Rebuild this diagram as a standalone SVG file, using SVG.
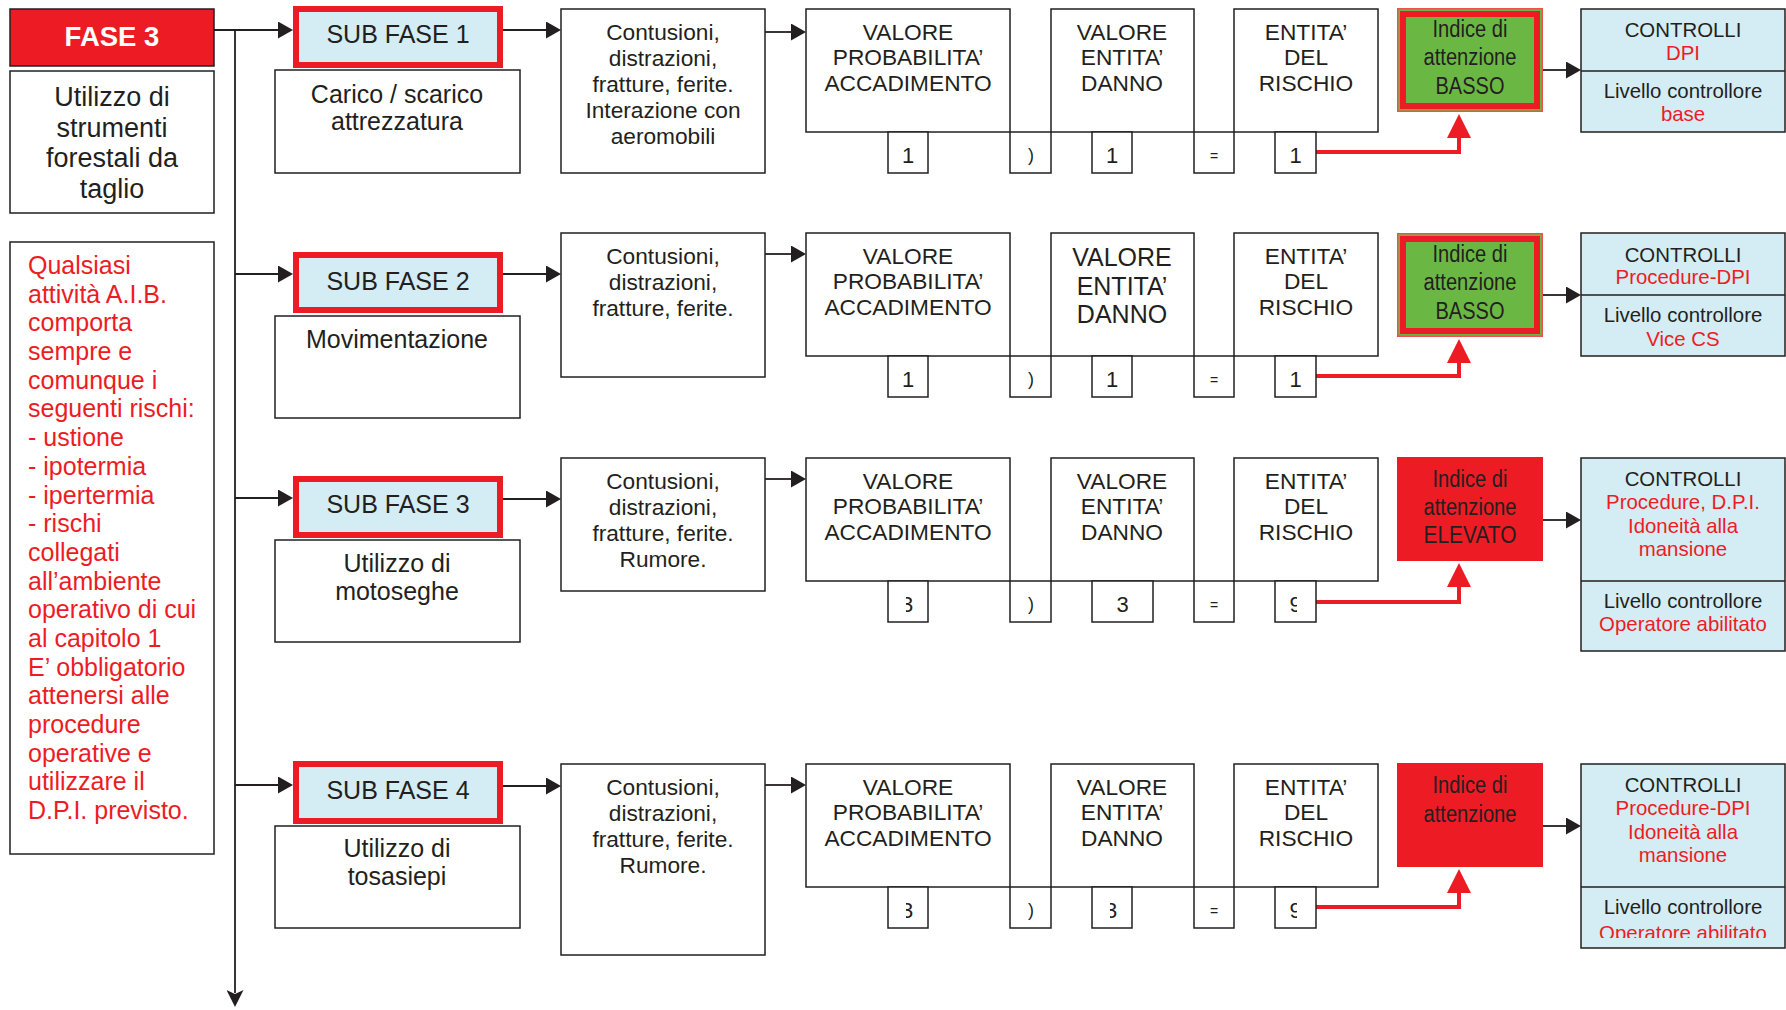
<svg xmlns="http://www.w3.org/2000/svg" width="1786" height="1010" viewBox="0 0 1786 1010">
  <style>
    text { font-family: "Liberation Sans", Arial, sans-serif; fill: #231f20; text-anchor: middle; }
    .box { fill: #ffffff; stroke: #231f20; stroke-width: 1.5; }
    .sub { fill: #d4ecf4; stroke: #ed1c24; stroke-width: 6; }
    .ctrl { fill: #d4ecf4; stroke: #231f20; stroke-width: 1.5; }
    .hi { fill: #ed1c24; }
    .lo { fill: #6ab843; stroke: #ef5050; stroke-width: 1.5; }
    .loframe { fill: none; stroke: #ed1c24; stroke-width: 6; }
    .red { fill: #ed1c24; }
    .f22 { font-size: 22.7px; }
    .f25 { font-size: 25px; }
    .f27 { font-size: 27px; }
    .f20 { font-size: 20.4px; }
    .ind { font-size: 23px; }
    .dig { font-size: 22px; }
    .op { font-size: 18px; }
    .eq { font-size: 14px; }
    .lnk { fill: none; stroke: #231f20; stroke-width: 1.8; }
    .rlnk { fill: none; stroke: #ed1c24; stroke-width: 4; }
    .left { text-anchor: start; }
  </style>
  <defs>
    <marker id="ah" markerUnits="userSpaceOnUse" markerWidth="15" markerHeight="17" refX="1" refY="8.5" orient="auto">
      <path d="M0,0 L15,8.5 L0,17 z" fill="#231f20"/>
    </marker>
    <marker id="ahd" markerUnits="userSpaceOnUse" markerWidth="17" markerHeight="17" refX="3" refY="8.5" orient="auto">
      <path d="M0,0 L17,8.5 L0,17 L4,8.5 z" fill="#231f20"/>
    </marker>
    <marker id="ahr" markerUnits="userSpaceOnUse" markerWidth="24" markerHeight="24" refX="1" refY="12" orient="auto">
      <path d="M0,0 L24,12 L0,24 z" fill="#ed1c24"/>
    </marker>
    <!-- partially hidden values in the small value boxes -->
    <clipPath id="c3a"><rect x="906" y="580" width="8" height="45"/></clipPath>
    <clipPath id="c3b"><rect x="906" y="886" width="8" height="45"/></clipPath>
    <clipPath id="c3c"><rect x="1110" y="886" width="8" height="45"/></clipPath>
    <clipPath id="c9a"><rect x="1285" y="580" width="12" height="45"/></clipPath>
    <clipPath id="c9b"><rect x="1285" y="886" width="12" height="45"/></clipPath>
    <clipPath id="cop"><rect x="1581" y="890" width="205" height="48"/></clipPath>
  </defs>

  <!-- connectors -->
  <g id="connectors">
    <path class="lnk" d="M214,30 H279" marker-end="url(#ah)"/>
    <path class="lnk" d="M235,30 V993" marker-end="url(#ahd)"/>
    <path class="lnk" d="M235,274 H279" marker-end="url(#ah)"/>
    <path class="lnk" d="M235,498 H279" marker-end="url(#ah)"/>
    <path class="lnk" d="M235,785 H279" marker-end="url(#ah)"/>

    <path class="lnk" d="M503,30 H547" marker-end="url(#ah)"/>
    <path class="lnk" d="M503,274 H547" marker-end="url(#ah)"/>
    <path class="lnk" d="M503,499 H547" marker-end="url(#ah)"/>
    <path class="lnk" d="M503,786 H547" marker-end="url(#ah)"/>

    <path class="lnk" d="M765,32 H792" marker-end="url(#ah)"/>
    <path class="lnk" d="M765,254 H792" marker-end="url(#ah)"/>
    <path class="lnk" d="M765,479 H792" marker-end="url(#ah)"/>
    <path class="lnk" d="M765,785 H792" marker-end="url(#ah)"/>

    <path class="lnk" d="M1543,70 H1567" marker-end="url(#ah)"/>
    <path class="lnk" d="M1543,295 H1567" marker-end="url(#ah)"/>
    <path class="lnk" d="M1543,520 H1567" marker-end="url(#ah)"/>
    <path class="lnk" d="M1543,826 H1567" marker-end="url(#ah)"/>

    <path class="rlnk" d="M1316,152 H1459 V137" marker-end="url(#ahr)"/>
    <path class="rlnk" d="M1316,376 H1459 V362" marker-end="url(#ahr)"/>
    <path class="rlnk" d="M1316,602 H1459 V586" marker-end="url(#ahr)"/>
    <path class="rlnk" d="M1316,907 H1459 V892" marker-end="url(#ahr)"/>
  </g>

  <!-- phase header -->
  <g id="fase3">
    <rect x="10" y="9" width="204" height="57" fill="#ed1c24" stroke="#231f20" stroke-width="1.5"/>
    <text x="112" y="46" style="font-size:27.5px;font-weight:bold;fill:#ffffff">FASE 3</text>
  </g>
  <g id="fase3-desc">
    <rect class="box" x="10" y="71" width="204" height="142"/>
    <text class="f27" x="112" y="106">Utilizzo di</text>
    <text class="f27" x="112" y="137">strumenti</text>
    <text class="f27" x="112" y="167">forestali da</text>
    <text class="f27" x="112" y="198">taglio</text>
  </g>
  <g id="note">
    <rect class="box" x="10" y="242" width="204" height="612"/>
    <g class="f25">
      <text class="left red" x="28" y="274">Qualsiasi</text>
      <text class="left red" x="28" y="303">attività A.I.B.</text>
      <text class="left red" x="28" y="331">comporta</text>
      <text class="left red" x="28" y="360">sempre e</text>
      <text class="left red" x="28" y="389">comunque i</text>
      <text class="left red" x="28" y="417">seguenti rischi:</text>
      <text class="left red" x="28" y="446">- ustione</text>
      <text class="left red" x="28" y="475">- ipotermia</text>
      <text class="left red" x="28" y="504">- ipertermia</text>
      <text class="left red" x="28" y="532">- rischi</text>
      <text class="left red" x="28" y="561">collegati</text>
      <text class="left red" x="28" y="590">all’ambiente</text>
      <text class="left red" x="28" y="618">operativo di cui</text>
      <text class="left red" x="28" y="647">al capitolo 1</text>
      <text class="left red" x="28" y="676">E’ obbligatorio</text>
      <text class="left red" x="28" y="704">attenersi alle</text>
      <text class="left red" x="28" y="733">procedure</text>
      <text class="left red" x="28" y="762">operative e</text>
      <text class="left red" x="28" y="790">utilizzare il</text>
      <text class="left red" x="28" y="819">D.P.I. previsto.</text>
    </g>
  </g>

  <!-- row 1 -->
  <g id="subfase1">
    <rect class="sub" x="296" y="9" width="204" height="56"/>
    <text class="f25" x="398" y="43">SUB FASE 1</text>
  </g>
  <g id="subfase1-desc">
    <rect class="box" x="275" y="70" width="245" height="103"/>
    <text class="f25" x="397" y="103">Carico / scarico</text>
    <text class="f25" x="397" y="130">attrezzatura</text>
  </g>
  <g id="rischi1">
    <rect class="box" x="561" y="9" width="204" height="164"/>
    <text class="f22" x="663" y="40">Contusioni,</text>
    <text class="f22" x="663" y="66">distrazioni,</text>
    <text class="f22" x="663" y="92">fratture, ferite.</text>
    <text class="f22" x="663" y="118">Interazione con</text>
    <text class="f22" x="663" y="144">aeromobili</text>
  </g>
  <g id="prob1">
    <rect class="box" x="806" y="9" width="204" height="123"/>
    <text class="f22" x="908" y="40">VALORE</text>
    <text class="f22" x="908" y="65">PROBABILITA’</text>
    <text class="f22" x="908" y="91">ACCADIMENTO</text>
    <rect class="box" x="888" y="132" width="40" height="41"/>
    <text class="dig" x="908" y="163">1</text>
  </g>
  <g id="per1">
    <rect class="box" x="1010" y="132" width="41" height="41"/>
    <text class="op" x="1031" y="161">)</text>
  </g>
  <g id="danno1">
    <rect class="box" x="1051" y="9" width="143" height="123"/>
    <text class="f22" x="1122" y="40">VALORE</text>
    <text class="f22" x="1122" y="65">ENTITA’</text>
    <text class="f22" x="1122" y="91">DANNO</text>
    <rect class="box" x="1092" y="132" width="40" height="41"/>
    <text class="dig" x="1112" y="163">1</text>
  </g>
  <g id="uguale1">
    <rect class="box" x="1194" y="132" width="40" height="41"/>
    <text class="eq" x="1214" y="161">=</text>
  </g>
  <g id="rischio1">
    <rect class="box" x="1234" y="9" width="144" height="123"/>
    <text class="f22" x="1306" y="40">ENTITA’</text>
    <text class="f22" x="1306" y="65">DEL</text>
    <text class="f22" x="1306" y="91">RISCHIO</text>
    <rect class="box" x="1275" y="132" width="41" height="41"/>
    <text class="dig" x="1295.5" y="163">1</text>
  </g>
  <g id="indice1">
    <rect class="lo" x="1397.75" y="8.75" width="144.5" height="102.5"/>
    <rect class="loframe" x="1403" y="14" width="134" height="92"/>
    <text class="ind" x="1470" y="37" textLength="75" lengthAdjust="spacingAndGlyphs">Indice di</text>
    <text class="ind" x="1470" y="65" textLength="93" lengthAdjust="spacingAndGlyphs">attenzione</text>
    <text class="ind" x="1470" y="94" textLength="69" lengthAdjust="spacingAndGlyphs">BASSO</text>
  </g>
  <g id="controlli1">
    <rect class="ctrl" x="1581" y="9" width="204" height="123"/>
    <line x1="1581" y1="71" x2="1785" y2="71" stroke="#231f20" stroke-width="1.5"/>
    <text class="f20" x="1683" y="37">CONTROLLI</text>
    <text class="f20 red" x="1683" y="60">DPI</text>
    <text class="f20" x="1683" y="98">Livello controllore</text>
    <text class="f20 red" x="1683" y="121">base</text>
  </g>

  <!-- row 2 -->
  <g id="subfase2">
    <rect class="sub" x="296" y="255" width="204" height="55"/>
    <text class="f25" x="398" y="290">SUB FASE 2</text>
  </g>
  <g id="subfase2-desc">
    <rect class="box" x="275" y="316" width="245" height="102"/>
    <text class="f25" x="397" y="348">Movimentazione</text>
  </g>
  <g id="rischi2">
    <rect class="box" x="561" y="233" width="204" height="144"/>
    <text class="f22" x="663" y="264">Contusioni,</text>
    <text class="f22" x="663" y="290">distrazioni,</text>
    <text class="f22" x="663" y="316">fratture, ferite.</text>
  </g>
  <g id="prob2">
    <rect class="box" x="806" y="233" width="204" height="123"/>
    <text class="f22" x="908" y="264">VALORE</text>
    <text class="f22" x="908" y="289">PROBABILITA’</text>
    <text class="f22" x="908" y="315">ACCADIMENTO</text>
    <rect class="box" x="888" y="356" width="40" height="41"/>
    <text class="dig" x="908" y="387">1</text>
  </g>
  <g id="per2">
    <rect class="box" x="1010" y="356" width="41" height="41"/>
    <text class="op" x="1031" y="385">)</text>
  </g>
  <g id="danno2">
    <rect class="box" x="1051" y="233" width="143" height="123"/>
    <text class="f25" x="1122" y="266">VALORE</text>
    <text class="f25" x="1122" y="295">ENTITA’</text>
    <text class="f25" x="1122" y="323">DANNO</text>
    <rect class="box" x="1092" y="356" width="40" height="41"/>
    <text class="dig" x="1112" y="387">1</text>
  </g>
  <g id="uguale2">
    <rect class="box" x="1194" y="356" width="40" height="41"/>
    <text class="eq" x="1214" y="385">=</text>
  </g>
  <g id="rischio2">
    <rect class="box" x="1234" y="233" width="144" height="123"/>
    <text class="f22" x="1306" y="264">ENTITA’</text>
    <text class="f22" x="1306" y="289">DEL</text>
    <text class="f22" x="1306" y="315">RISCHIO</text>
    <rect class="box" x="1275" y="356" width="41" height="41"/>
    <text class="dig" x="1295.5" y="387">1</text>
  </g>
  <g id="indice2">
    <rect class="lo" x="1397.75" y="233.75" width="144.5" height="102.5"/>
    <rect class="loframe" x="1403" y="239" width="134" height="92"/>
    <text class="ind" x="1470" y="262" textLength="75" lengthAdjust="spacingAndGlyphs">Indice di</text>
    <text class="ind" x="1470" y="290" textLength="93" lengthAdjust="spacingAndGlyphs">attenzione</text>
    <text class="ind" x="1470" y="319" textLength="69" lengthAdjust="spacingAndGlyphs">BASSO</text>
  </g>
  <g id="controlli2">
    <rect class="ctrl" x="1581" y="233" width="204" height="123"/>
    <line x1="1581" y1="295" x2="1785" y2="295" stroke="#231f20" stroke-width="1.5"/>
    <text class="f20" x="1683" y="262">CONTROLLI</text>
    <text class="f20 red" x="1683" y="284">Procedure-DPI</text>
    <text class="f20" x="1683" y="322">Livello controllore</text>
    <text class="f20 red" x="1683" y="346">Vice CS</text>
  </g>

  <!-- row 3 -->
  <g id="subfase3">
    <rect class="sub" x="296" y="479" width="204" height="56"/>
    <text class="f25" x="398" y="513">SUB FASE 3</text>
  </g>
  <g id="subfase3-desc">
    <rect class="box" x="275" y="540" width="245" height="102"/>
    <text class="f25" x="397" y="572">Utilizzo di</text>
    <text class="f25" x="397" y="600">motoseghe</text>
  </g>
  <g id="rischi3">
    <rect class="box" x="561" y="458" width="204" height="133"/>
    <text class="f22" x="663" y="489">Contusioni,</text>
    <text class="f22" x="663" y="515">distrazioni,</text>
    <text class="f22" x="663" y="541">fratture, ferite.</text>
    <text class="f22" x="663" y="567">Rumore.</text>
  </g>
  <g id="prob3">
    <rect class="box" x="806" y="458" width="204" height="123"/>
    <text class="f22" x="908" y="489">VALORE</text>
    <text class="f22" x="908" y="514">PROBABILITA’</text>
    <text class="f22" x="908" y="540">ACCADIMENTO</text>
    <rect class="box" x="888" y="581" width="40" height="41"/>
    <text class="dig" x="907" y="612" clip-path="url(#c3a)">3</text>
  </g>
  <g id="per3">
    <rect class="box" x="1010" y="581" width="41" height="41"/>
    <text class="op" x="1031" y="610">)</text>
  </g>
  <g id="danno3">
    <rect class="box" x="1051" y="458" width="143" height="123"/>
    <text class="f22" x="1122" y="489">VALORE</text>
    <text class="f22" x="1122" y="514">ENTITA’</text>
    <text class="f22" x="1122" y="540">DANNO</text>
    <rect class="box" x="1092" y="581" width="61" height="41"/>
    <text class="dig" x="1122.5" y="612">3</text>
  </g>
  <g id="uguale3">
    <rect class="box" x="1194" y="581" width="40" height="41"/>
    <text class="eq" x="1214" y="610">=</text>
  </g>
  <g id="rischio3">
    <rect class="box" x="1234" y="458" width="144" height="123"/>
    <text class="f22" x="1306" y="489">ENTITA’</text>
    <text class="f22" x="1306" y="514">DEL</text>
    <text class="f22" x="1306" y="540">RISCHIO</text>
    <rect class="box" x="1275" y="581" width="41" height="41"/>
    <text class="dig" x="1295.5" y="612" clip-path="url(#c9a)">9</text>
  </g>
  <g id="indice3">
    <rect class="hi" x="1397" y="457" width="146" height="104"/>
    <text class="ind" x="1470" y="487" textLength="75" lengthAdjust="spacingAndGlyphs">Indice di</text>
    <text class="ind" x="1470" y="515" textLength="93" lengthAdjust="spacingAndGlyphs">attenzione</text>
    <text class="ind" x="1470" y="543" textLength="93" lengthAdjust="spacingAndGlyphs">ELEVATO</text>
  </g>
  <g id="controlli3">
    <rect class="ctrl" x="1581" y="458" width="204" height="193"/>
    <line x1="1581" y1="581" x2="1785" y2="581" stroke="#231f20" stroke-width="1.5"/>
    <text class="f20" x="1683" y="486">CONTROLLI</text>
    <text class="f20 red" x="1683" y="509">Procedure, D.P.I.</text>
    <text class="f20 red" x="1683" y="533">Idoneità alla</text>
    <text class="f20 red" x="1683" y="556">mansione</text>
    <text class="f20" x="1683" y="608">Livello controllore</text>
    <text class="f20 red" x="1683" y="631">Operatore abilitato</text>
  </g>

  <!-- row 4 -->
  <g id="subfase4">
    <rect class="sub" x="296" y="764" width="204" height="57"/>
    <text class="f25" x="398" y="799">SUB FASE 4</text>
  </g>
  <g id="subfase4-desc">
    <rect class="box" x="275" y="826" width="245" height="102"/>
    <text class="f25" x="397" y="857">Utilizzo di</text>
    <text class="f25" x="397" y="885">tosasiepi</text>
  </g>
  <g id="rischi4">
    <rect class="box" x="561" y="764" width="204" height="191"/>
    <text class="f22" x="663" y="795">Contusioni,</text>
    <text class="f22" x="663" y="821">distrazioni,</text>
    <text class="f22" x="663" y="847">fratture, ferite.</text>
    <text class="f22" x="663" y="873">Rumore.</text>
  </g>
  <g id="prob4">
    <rect class="box" x="806" y="764" width="204" height="123"/>
    <text class="f22" x="908" y="795">VALORE</text>
    <text class="f22" x="908" y="820">PROBABILITA’</text>
    <text class="f22" x="908" y="846">ACCADIMENTO</text>
    <rect class="box" x="888" y="887" width="40" height="41"/>
    <text class="dig" x="907" y="918" clip-path="url(#c3b)">3</text>
  </g>
  <g id="per4">
    <rect class="box" x="1010" y="887" width="41" height="41"/>
    <text class="op" x="1031" y="916">)</text>
  </g>
  <g id="danno4">
    <rect class="box" x="1051" y="764" width="143" height="123"/>
    <text class="f22" x="1122" y="795">VALORE</text>
    <text class="f22" x="1122" y="820">ENTITA’</text>
    <text class="f22" x="1122" y="846">DANNO</text>
    <rect class="box" x="1092" y="887" width="40" height="41"/>
    <text class="dig" x="1111" y="918" clip-path="url(#c3c)">3</text>
  </g>
  <g id="uguale4">
    <rect class="box" x="1194" y="887" width="40" height="41"/>
    <text class="eq" x="1214" y="916">=</text>
  </g>
  <g id="rischio4">
    <rect class="box" x="1234" y="764" width="144" height="123"/>
    <text class="f22" x="1306" y="795">ENTITA’</text>
    <text class="f22" x="1306" y="820">DEL</text>
    <text class="f22" x="1306" y="846">RISCHIO</text>
    <rect class="box" x="1275" y="887" width="41" height="41"/>
    <text class="dig" x="1295.5" y="918" clip-path="url(#c9b)">9</text>
  </g>
  <g id="indice4">
    <rect class="hi" x="1397" y="763" width="146" height="104"/>
    <text class="ind" x="1470" y="793" textLength="75" lengthAdjust="spacingAndGlyphs">Indice di</text>
    <text class="ind" x="1470" y="822" textLength="93" lengthAdjust="spacingAndGlyphs">attenzione</text>
  </g>
  <g id="controlli4">
    <rect class="ctrl" x="1581" y="764" width="204" height="184"/>
    <line x1="1581" y1="887" x2="1785" y2="887" stroke="#231f20" stroke-width="1.5"/>
    <text class="f20" x="1683" y="792">CONTROLLI</text>
    <text class="f20 red" x="1683" y="815">Procedure-DPI</text>
    <text class="f20 red" x="1683" y="839">Idoneità alla</text>
    <text class="f20 red" x="1683" y="862">mansione</text>
    <text class="f20" x="1683" y="914">Livello controllore</text>
    <text class="f20 red" x="1683" y="940" clip-path="url(#cop)">Operatore abilitato</text>
  </g>
</svg>
